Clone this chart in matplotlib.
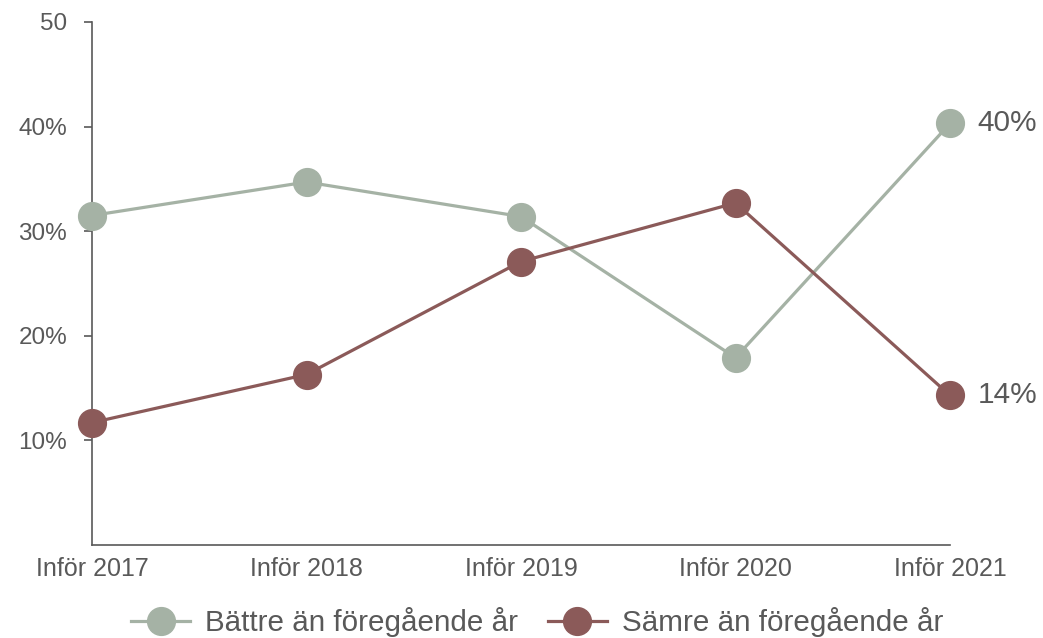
import matplotlib
matplotlib.use("Agg")
import matplotlib.pyplot as plt
from matplotlib.lines import Line2D

plt.rcParams['font.family'] = ['Liberation Sans', 'DejaVu Sans']

categories = ["Inför 2017", "Inför 2018", "Inför 2019", "Inför 2020", "Inför 2021"]
battre = [31.5, 34.7, 31.4, 17.9, 40.3]
samre = [11.7, 16.3, 27.1, 32.7, 14.3]
series_names = ["Bättre än föregående år", "Sämre än föregående år"]
yticks = [10, 20, 30, 40, 50]
ytick_labels = ["10%", "20%", "30%", "40%", "50"]
end_labels = ["40%", "14%"]

green = "#A5B2A5"
red = "#8B5A59"
txt = "#595959"
axc = "#595959"

fig = plt.figure(figsize=(10.43, 6.38), dpi=100)
ax = fig.add_axes([92/1043, 1-545/638, (950-92)/1043, (545-22)/638])
x = list(range(len(categories)))
ax.plot(x, battre, color=green, lw=2.3, marker='o', ms=20, zorder=3, clip_on=False)
ax.plot(x, samre, color=red, lw=2.3, marker='o', ms=20, zorder=3, clip_on=False)
ax.set_xlim(0, len(categories)-1)
ax.set_ylim(0, 50)
ax.set_yticks(yticks)
ax.set_yticklabels(ytick_labels)
ax.set_xticks(x)
ax.set_xticklabels(categories)
for s in ['top', 'right']:
    ax.spines[s].set_visible(False)
for s in ['left', 'bottom']:
    ax.spines[s].set_color(axc)
    ax.spines[s].set_linewidth(1.2)
ax.tick_params(axis='y', length=6, width=1.2, color=axc, labelsize=17.5, labelcolor=txt, pad=12)
ax.tick_params(axis='x', length=0, labelsize=18, labelcolor=txt, pad=9)

ax.annotate(end_labels[0], (x[-1], battre[-1]), xytext=(20, 0), textcoords='offset points',
            va='center', ha='left', fontsize=21.5, color=txt, annotation_clip=False)
ax.annotate(end_labels[1], (x[-1], samre[-1]), xytext=(20, 0), textcoords='offset points',
            va='center', ha='left', fontsize=21.5, color=txt, annotation_clip=False)

handles = [Line2D([], [], color=green, lw=2.3, marker='o', ms=20),
           Line2D([], [], color=red, lw=2.3, marker='o', ms=20)]
fig.legend(handles, series_names, loc='center', bbox_to_anchor=(0.515, 0.025), ncol=2,
           frameon=False, fontsize=21.3, labelcolor=txt, handlelength=2.0,
           columnspacing=1.0, handletextpad=0.5)

fig.savefig("out.png", dpi=100)
